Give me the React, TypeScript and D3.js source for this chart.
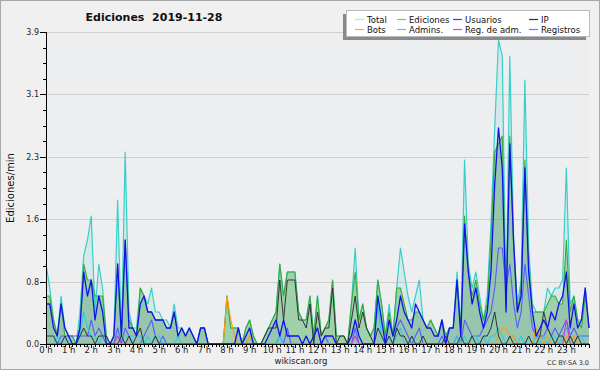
import React from 'react';
import * as d3 from 'd3';

// counts per 10 minutes (value / 10 = edits per minute), 145 points 0h..24h
const total = [
  10,7,3,1,6,2, 1,1,0,4,11,13, 16,4,10,7,1,0, 1,18,1,24,4,2, 2,7,6,5,7,4, 4,3,3,2,5,2,
  2,1,2,1,0,2, 2,0,0,0,0,0, 6,2,2,2,0,2, 3,1,0,0,1,2, 3,4,10,6,9,9, 9,4,3,3,6,1,
  6,1,2,3,8,1, 1,1,0,5,12,3, 5,2,1,2,8,5, 1,5,1,7,12,9, 6,4,6,8,3,2, 3,2,1,3,1,2,
  2,9,2,23,10,7, 9,6,3,6,15,27, 38,36,5,36,13,5, 8,33,12,5,4,4, 4,7,6,7,7,8, 22,5,6,3,3,7, 2,
];
const ediciones = [
  6,6,3,1,5,1, 1,1,0,2,10,8, 8,6,6,6,1,0, 1,10,1,13,3,2, 1,7,6,4,4,3, 3,3,2,2,4,1,
  2,1,2,1,0,2, 2,0,0,0,0,0, 6,2,2,2,0,2, 3,1,0,0,1,2, 3,4,10,6,9,9, 9,4,3,3,6,1,
  6,1,2,3,8,1, 1,1,0,5,9,3, 5,2,1,2,8,5, 1,4,1,7,7,5, 3,3,4,4,3,2, 3,2,1,3,1,2,
  2,8,2,16,9,6, 8,5,3,5,13,24, 25,26,5,26,12,4, 7,23,10,4,4,4, 4,5,6,6,5,5, 13,4,6,3,2,6, 2,
];
const usuarios = [
  5,5,2,1,5,2, 1,0,0,2,9,6, 8,3,6,4,0,0, 1,10,1,13,2,2, 1,5,6,4,4,3, 3,3,2,2,4,1,
  2,1,2,1,0,2, 2,0,0,0,0,0, 0,0,0,2,0,1, 2,0,0,0,0,1, 2,3,1,3,1,1, 1,1,0,1,0,1,
  2,0,1,1,1,0, 0,0,0,1,3,1, 0,0,0,0,6,3, 0,3,1,3,6,4, 3,2,5,4,3,2, 2,1,1,3,0,2,
  2,8,1,15,9,5, 7,4,2,4,9,20, 27,22,4,25,13,4, 6,22,9,4,1,2, 3,2,4,3,5,6, 9,2,5,2,3,7, 2,
];
const ip = [
  1,1,1,0,0,1, 0,0,0,1,2,1, 1,0,1,1,1,0, 0,0,1,0,1,0, 1,2,0,0,0,1, 0,0,0,0,0,0,
  0,0,0,0,0,0, 0,0,0,0,0,0, 0,0,0,0,0,0, 0,0,0,0,1,2, 2,2,8,3,8,8, 8,3,3,2,5,0,
  4,1,2,2,7,0, 1,1,0,3,6,2, 4,2,1,0,2,1, 0,1,0,2,1,1, 0,1,0,0,1,0, 0,0,0,0,1,0,
  0,0,1,0,0,1, 0,0,1,1,2,4, 1,0,0,1,0,0, 0,0,1,0,0,1, 4,2,1,0,1,1, 0,1,0,1,0,0, 0,
];
const registros = [
  0,0,0,0,1,1, 1,1,1,1,1,1, 3,1,2,1,0,0, 0,2,0,2,1,0, 0,0,1,2,3,1, 0,1,0,0,0,0,
  0,0,0,0,0,0, 0,0,0,0,0,0, 0,0,0,0,0,0, 0,0,0,0,0,0, 0,0,1,0,2,0, 0,0,0,0,0,0,
  0,0,1,0,0,0, 0,0,0,0,2,0, 0,0,0,0,0,0, 0,0,0,2,3,2, 1,0,1,2,0,0, 0,0,0,1,0,0,
  0,1,0,3,2,1, 1,1,2,3,4,7, 12,12,7,10,5,2, 4,10,6,2,1,1, 1,2,1,2,1,2, 3,1,2,1,1,1, 1,
];
const admins = [
  0,0,0,1,0,1, 0,0,0,1,4,2, 1,1,0,1,1,0, 0,1,1,1,1,1, 1,1,0,1,0,1, 1,0,0,0,0,1,
  0,0,0,0,0,0, 0,0,0,0,0,0, 0,0,0,0,0,0, 0,0,0,0,0,0, 0,0,1,0,0,0, 0,0,0,0,0,0,
  0,0,0,0,0,0, 0,0,0,0,0,0, 0,0,0,0,5,1, 0,1,0,1,2,0, 0,1,0,0,0,0, 0,0,0,0,0,0,
  0,1,0,1,0,1, 1,0,1,0,1,1, 2,1,0,1,1,0, 1,0,1,0,1,0, 1,0,1,1,0,1, 2,1,0,1,1,0, 0,
];
const bots = [
  0,0,0,0,0,0, 0,0,0,0,0,0, 0,0,0,0,0,0, 0,0,0,0,0,0, 0,0,0,0,0,0, 0,0,0,0,0,0,
  0,0,0,0,0,0, 0,0,0,0,0,0, 6,3,1,0,0,0, 1,0,0,0,0,0, 0,0,0,0,0,0, 0,0,0,0,0,0,
  0,0,0,0,0,0, 0,0,0,0,0,0, 0,0,0,0,0,0, 0,0,0,0,0,0, 0,0,0,0,0,0, 0,0,0,0,0,0,
  0,0,0,0,0,0, 0,0,0,0,0,0, 1,2,2,1,1,0, 0,0,0,0,2,1, 0,1,0,0,0,0, 1,0,1,0,0,0, 0,
];
const regAdm = [
  0,0,0,0,0,0, 0,0,0,0,0,0, 0,0,0,0,0,0, 0,1,0,0,0,0, 0,0,0,0,0,0, 0,0,0,0,0,0,
  0,0,0,0,0,0, 0,0,0,0,0,0, 0,0,0,0,0,0, 0,0,0,0,0,0, 0,0,0,0,0,0, 0,0,0,0,0,0,
  0,0,0,0,0,0, 0,0,0,0,1,0, 0,0,0,0,0,0, 0,0,0,0,0,0, 0,0,0,0,0,0, 0,0,0,0,0,0,
  0,0,0,0,0,0, 0,0,0,0,0,0, 0,0,0,0,0,0, 0,0,0,0,0,0, 0,0,0,0,0,0, 3,0,0,0,0,0, 0,
];

const hourLabels = d3.range(24).map((h) => `${h} h`);
const yTickValues = [0, 0.78, 1.56, 2.34, 3.12, 3.9];
const legendNames = ['Total', 'Ediciones', 'Usuarios', 'IP', 'Bots', 'Admins.', 'Reg. de adm.', 'Registros'];
const legendColors = ['#a6e8e4', '#6ccc6c', '#3a3aff', '#333333', '#ffa733', '#3cd6ea', '#e040e8', '#6a78ff'];

const W = 600;
const H = 370;
const FONT = 'DejaVu Sans, Verdana, sans-serif';

export default function App() {
  const x = d3.scaleLinear().domain([0, 144]).range([46, 589]);
  const y = d3.scaleLinear().domain([0, 3.9]).range([344, 32]);
  const lineGen = d3.line<number>().x((_, i) => x(i)).y((d) => y(d / 10));
  const areaGen = d3.area<number>().x((_, i) => x(i)).y0(y(0)).y1((d) => y(d / 10));

  const minorY = d3.range(0, 3.9001, 0.195);
  const minorX = d3.range(0, 145, 1);
  const legendCols = [355, 397, 453, 529];

  const lines: [number[], string, number][] = [
    [total, '#38cfc8', 1.2],
    [ediciones, '#3aaa3a', 1.1],
    [registros, '#5a5aff', 1.1],
    [admins, '#2ccbe8', 1.1],
    [bots, '#ff9a1a', 1.1],
    [regAdm, '#d23ad8', 1.1],
    [ip, '#333333', 1.0],
    [usuarios, '#1010ee', 1.3],
  ];

  return (
    <svg width={W} height={H} style={{ position: 'absolute', left: 0, top: 0 }} fontFamily={FONT}>
      <rect x={0.5} y={0.5} width={599} height={369} fill="#f0f0f0" stroke="#a8a8a8" />
      <rect x={46} y={32} width={543} height={312} fill="#edeef0" />
      {yTickValues.slice(1).map((v) => (
        <line key={v} x1={46} x2={589} y1={Math.round(y(v)) + 0.5} y2={Math.round(y(v)) + 0.5} stroke="#cfcfcf" />
      ))}
      <text x={154} y={21} textAnchor="middle" fontSize={11} fontWeight="bold" fill="#111" style={{ whiteSpace: 'pre' }}>
        {'Ediciones  2019-11-28'}
      </text>
      <path d={areaGen(total) || ''} fill="rgba(60,200,190,0.13)" />
      <path d={areaGen(ediciones) || ''} fill="rgba(60,170,60,0.36)" />
      <path d={areaGen(usuarios) || ''} fill="rgba(0,0,200,0.05)" />
      {lines.map(([arr, c, w], k) => (
        <path key={k} d={lineGen(arr) || ''} fill="none" stroke={c} strokeWidth={w} strokeLinejoin="round" />
      ))}
      {/* y axis */}
      <line x1={46.5} x2={46.5} y1={32} y2={345} stroke="#000" />
      {minorY.map((v, i) => (
        <line key={'my' + i} x1={43} x2={46} y1={Math.round(y(v)) + 0.5} y2={Math.round(y(v)) + 0.5} stroke="#000" />
      ))}
      {yTickValues.map((v) => (
        <g key={'yt' + v}>
          <line x1={40} x2={46} y1={Math.round(y(v)) + 0.5} y2={Math.round(y(v)) + 0.5} stroke="#000" />
          <text x={39} y={y(v) + 3} textAnchor="end" fontSize={8} fill="#222">
            {v.toFixed(1)}
          </text>
        </g>
      ))}
      <text transform="translate(14,188) rotate(-90)" textAnchor="middle" fontSize={10} fill="#111">
        Ediciones/min
      </text>
      {/* x axis */}
      <line x1={46} x2={590} y1={344.5} y2={344.5} stroke="#000" />
      {minorX.map((i) => (
        <line key={'mx' + i} x1={Math.round(x(i)) + 0.5} x2={Math.round(x(i)) + 0.5} y1={344} y2={i % 6 === 0 ? 348 : 347} stroke="#000" />
      ))}
      {hourLabels.map((lab, h) => (
        <text key={lab} x={x(h * 6)} y={353} textAnchor="middle" fontSize={8.5} fill="#222">
          {lab}
        </text>
      ))}
      <text x={301} y={364} textAnchor="middle" fontSize={8.5} fill="#222">wikiscan.org</text>
      <text x={589} y={365} textAnchor="end" fontSize={6.5} fill="#333">CC BY-SA 3.0</text>
      {/* legend */}
      <rect x={343} y={14} width={243} height={26} fill="#8a8a8a" />
      <rect x={346.5} y={10.5} width={243} height={26} fill="#fff" stroke="#bbb" />
      {legendNames.map((n, k) => {
        const cx = legendCols[k % 4];
        const cy = k < 4 ? 19.5 : 29.5;
        return (
          <g key={n}>
            <line x1={cx} x2={cx + 9} y1={cy} y2={cy} stroke={legendColors[k]} strokeWidth={1.2} />
            <text x={cx + 12} y={cy + 3} fontSize={8.5} fill="#111">{n}</text>
          </g>
        );
      })}
    </svg>
  );
}
